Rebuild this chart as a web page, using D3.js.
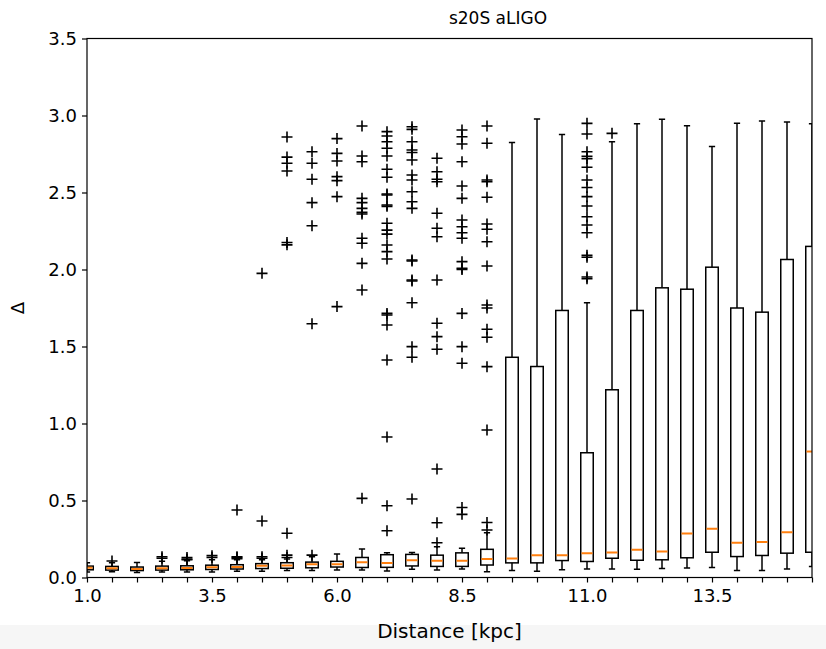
<!DOCTYPE html>
<html><head><meta charset="utf-8">
<script src="https://cdn.jsdelivr.net/npm/d3@7"></script>
<style>
body{margin:0;background:#fff;}
text{font-family:"DejaVu Sans",sans-serif;fill:#000;}
</style></head><body>
<svg id="c" width="826" height="649"></svg>
<script>
const distances = [1.0,1.5,2.0,2.5,3.0,3.5,4.0,4.5,5.0,5.5,6.0,6.5,7.0,7.5,8.0,8.5,9.0,9.5,10.0,10.5,11.0,11.5,12.0,12.5,13.0,13.5,14.0,14.5,15.0,15.5];
const whisLow = [0.035,0.038,0.033,0.035,0.036,0.035,0.040,0.040,0.045,0.045,0.048,0.048,0.042,0.054,0.048,0.055,0.038,0.045,0.041,0.050,0.056,0.056,0.054,0.058,0.061,0.065,0.045,0.045,0.056,0.071];
const q1 = [0.050,0.048,0.045,0.048,0.050,0.052,0.055,0.058,0.060,0.063,0.068,0.065,0.066,0.075,0.072,0.072,0.081,0.095,0.095,0.110,0.104,0.125,0.112,0.115,0.128,0.164,0.136,0.143,0.158,0.164];
const medians = [0.063,0.060,0.056,0.060,0.062,0.067,0.068,0.076,0.078,0.086,0.086,0.099,0.094,0.112,0.108,0.108,0.120,0.123,0.145,0.144,0.158,0.162,0.180,0.169,0.286,0.316,0.225,0.231,0.294,0.818];
const q3 = [0.074,0.072,0.068,0.074,0.076,0.080,0.083,0.090,0.096,0.100,0.105,0.130,0.148,0.150,0.145,0.160,0.183,1.430,1.370,1.734,0.810,1.219,1.734,1.881,1.872,2.015,1.750,1.723,2.065,2.150];
const whisHigh = [0.095,0.095,0.098,0.105,0.108,0.115,0.115,0.115,0.120,0.135,0.153,0.185,0.160,0.162,0.200,0.190,0.290,2.825,2.978,2.877,1.784,2.830,2.946,2.976,2.933,2.799,2.950,2.965,2.957,2.946];
const fliers = [
  [],
  [0.107],
  [],
  [0.125,0.135],
  [0.115,0.120,0.130],
  [0.130,0.142],
  [0.122,0.130,0.135,0.438],
  [0.125,0.135,0.367,1.975],
  [0.130,0.145,0.287,2.160,2.175,2.640,2.690,2.730,2.860],
  [0.145,1.648,2.284,2.434,2.586,2.690,2.765],
  [1.759,2.473,2.577,2.603,2.705,2.754,2.850],
  [0.514,1.867,2.040,2.170,2.203,2.360,2.371,2.397,2.434,2.462,2.700,2.737,2.932],
  [0.304,0.466,0.912,1.412,1.640,1.705,1.715,2.068,2.116,2.159,2.230,2.256,2.300,2.410,2.419,2.484,2.490,2.599,2.651,2.737,2.787,2.830,2.867,2.895],
  [0.510,1.430,1.499,1.784,1.925,1.932,2.055,2.062,2.397,2.440,2.505,2.581,2.614,2.711,2.760,2.776,2.830,2.910,2.927],
  [0.226,0.356,0.705,1.482,1.564,1.651,1.932,2.213,2.268,2.365,2.570,2.586,2.635,2.722],
  [0.410,0.455,1.391,1.499,1.715,2.000,2.008,2.051,2.203,2.239,2.278,2.321,2.462,2.542,2.700,2.815,2.862,2.906],
  [0.308,0.357,0.958,1.369,1.560,1.612,1.750,1.769,2.023,2.180,2.261,2.295,2.469,2.570,2.581,2.820,2.932],
  [],[],[],
  [1.940,1.951,2.080,2.092,2.239,2.289,2.343,2.412,2.473,2.532,2.581,2.664,2.720,2.735,2.765,2.880,2.949],
  [2.884],
  [],[],[],[],[],[],[],[]
];
const xTickLabels = ["1.0","3.5","6.0","8.5","11.0","13.5"];
const yTicks = [0.0,0.5,1.0,1.5,2.0,2.5,3.0,3.5];
const title = "s20S aLIGO";
const xLabel = "Distance [kpc]";
const yLabel = "Δ";

const L = 87, R = 812, T = 38.5, B = 577.5;
const svg = d3.select("#c");
svg.append("rect").attr("x",0).attr("y",625).attr("width",826).attr("height",24).attr("fill","#f6f6f6");

const x = d3.scaleLinear().domain([1.0, 15.5]).range([L, R]);
const y = d3.scaleLinear().domain([0, 3.5]).range([B, T]);
const boxW = x(1.25) - x(1.0);
const capW = boxW / 2;

svg.append("defs").append("clipPath").attr("id","clip")
  .append("rect").attr("x",L).attr("y",T).attr("width",R-L).attr("height",B-T);
const g = svg.append("g").attr("clip-path","url(#clip)");

const sw = 1.5;
distances.forEach((d,i) => {
  const cx = x(d);
  const bg = g.append("g");
  bg.append("line").attr("x1",cx).attr("x2",cx).attr("y1",y(whisLow[i])).attr("y2",y(q1[i])).attr("stroke","#000").attr("stroke-width",sw);
  bg.append("line").attr("x1",cx).attr("x2",cx).attr("y1",y(q3[i])).attr("y2",y(whisHigh[i])).attr("stroke","#000").attr("stroke-width",sw);
  bg.append("line").attr("x1",cx-capW/2).attr("x2",cx+capW/2).attr("y1",y(whisLow[i])).attr("y2",y(whisLow[i])).attr("stroke","#000").attr("stroke-width",sw);
  bg.append("line").attr("x1",cx-capW/2).attr("x2",cx+capW/2).attr("y1",y(whisHigh[i])).attr("y2",y(whisHigh[i])).attr("stroke","#000").attr("stroke-width",sw);
  bg.append("rect").attr("x",cx-boxW/2).attr("y",y(q3[i])).attr("width",boxW).attr("height",y(q1[i])-y(q3[i]))
    .attr("fill","none").attr("stroke","#000").attr("stroke-width",sw);
  bg.append("line").attr("x1",cx-boxW/2+0.75).attr("x2",cx+boxW/2-0.75).attr("y1",y(medians[i])).attr("y2",y(medians[i])).attr("stroke","#ff7f0e").attr("stroke-width",2);
  const ms = 5.5;
  fliers[i].forEach(v => {
    const py = y(v);
    bg.append("path").attr("d",`M${cx-ms},${py}H${cx+ms}M${cx},${py-ms}V${py+ms}`).attr("stroke","#000").attr("stroke-width",1.6).attr("fill","none");
  });
});

svg.append("rect").attr("x",L).attr("y",T).attr("width",R-L).attr("height",B-T).attr("fill","none").attr("stroke","#000").attr("stroke-width",1.2);

const xAxis = d3.axisBottom(x).tickValues(distances).tickSize(5).tickPadding(7)
  .tickFormat(d => { const s = d.toFixed(1); return xTickLabels.includes(s) ? s : ""; });
const xa = svg.append("g").attr("transform",`translate(0,${B})`).call(xAxis);
xa.select(".domain").remove();
xa.selectAll("text").attr("font-size",18).attr("font-family","DejaVu Sans").attr("fill","#000");
xa.selectAll("line").attr("stroke","#000").attr("stroke-width",1.2);

const yAxis = d3.axisLeft(y).tickValues(yTicks).tickSize(5).tickPadding(5).tickFormat(d => d.toFixed(1));
const ya = svg.append("g").attr("transform",`translate(${L},0)`).call(yAxis);
ya.select(".domain").remove();
ya.selectAll("text").attr("font-size",18).attr("font-family","DejaVu Sans").attr("fill","#000");
ya.selectAll("line").attr("stroke","#000").attr("stroke-width",1.2);

svg.append("text").attr("x",498).attr("y",24).attr("text-anchor","middle").attr("font-size",17).text(title);
svg.append("text").attr("x",(L+R)/2).attr("y",638).attr("text-anchor","middle").attr("font-size",20).text(xLabel);
svg.append("text").attr("transform",`translate(24,${(T+B)/2}) rotate(-90)`).attr("text-anchor","middle").attr("font-size",18).text(yLabel);
</script>
</body></html>
